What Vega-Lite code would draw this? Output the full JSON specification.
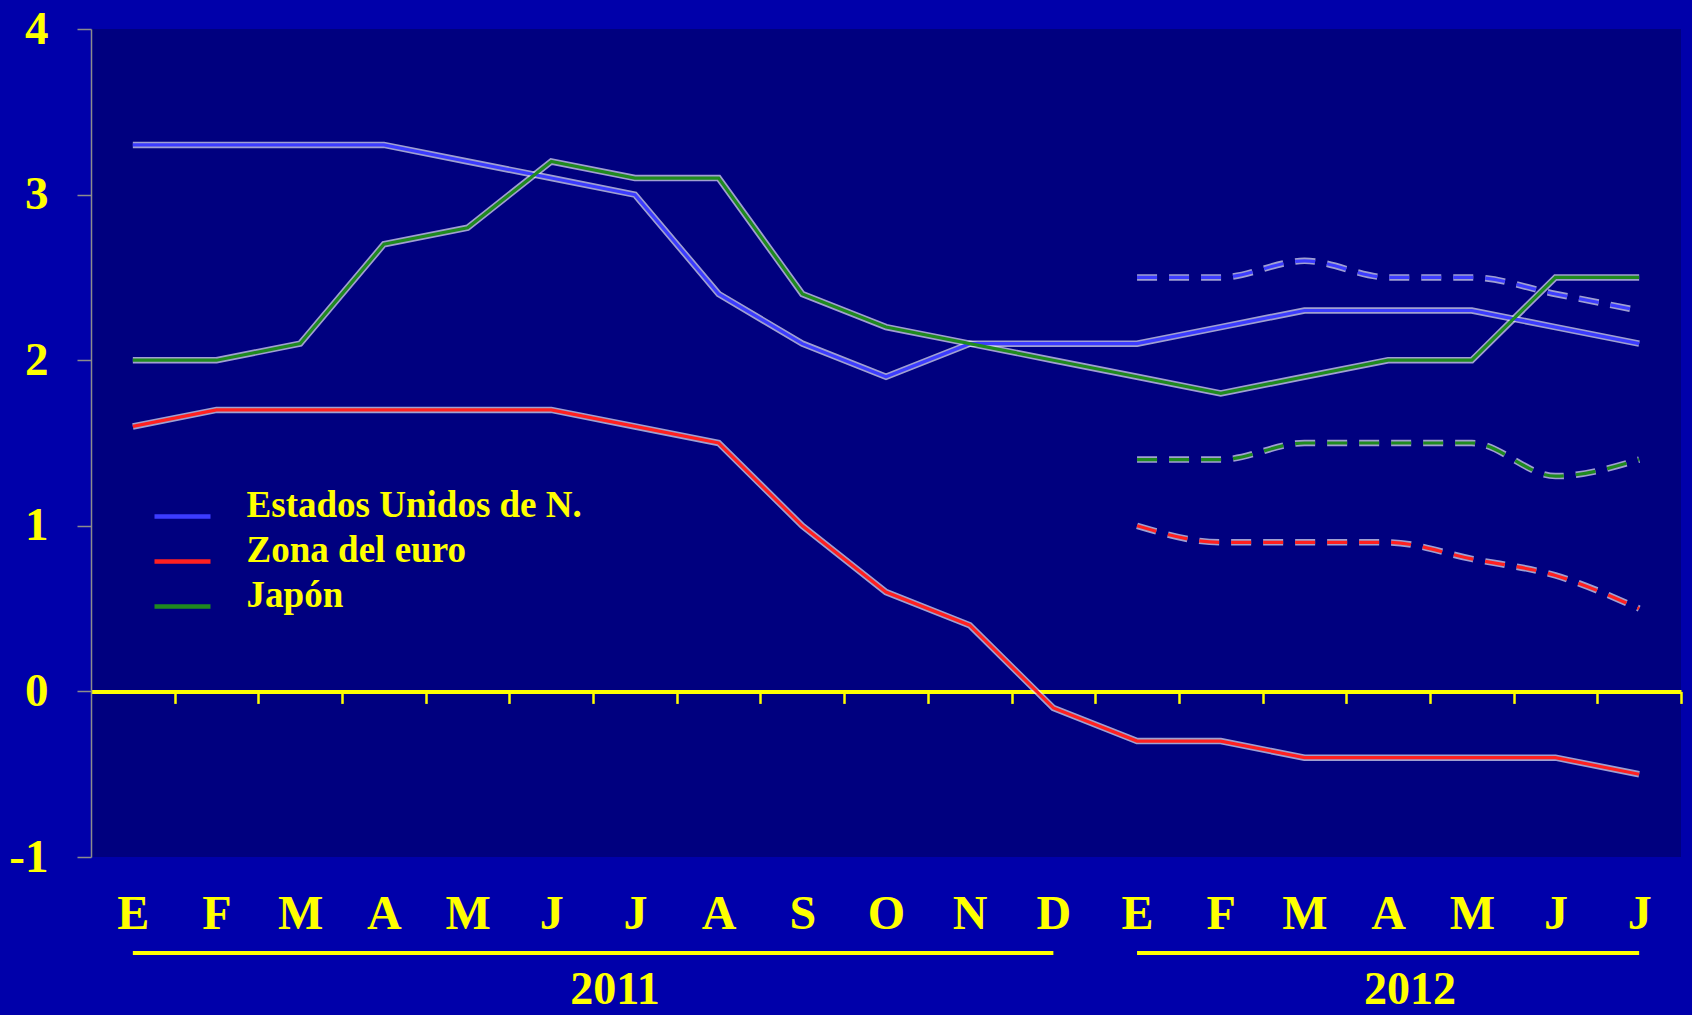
{
  "$schema": "https://vega.github.io/schema/vega-lite/v6.json",
  "width": 1590,
  "height": 828,
  "autosize": "none",
  "padding": {"left": 91, "top": 29, "right": 11, "bottom": 158},
  "background": "#0000aa",
  "config": {
    "view": {"fill": "#00007f", "stroke": null},
    "font": "Liberation Serif"
  },
  "datasets": {
    "tasas": [
      {"serie": "Estados Unidos de N.", "tipo": "observado", "mes": 1, "valor": 3.3},
      {"serie": "Estados Unidos de N.", "tipo": "observado", "mes": 2, "valor": 3.3},
      {"serie": "Estados Unidos de N.", "tipo": "observado", "mes": 3, "valor": 3.3},
      {"serie": "Estados Unidos de N.", "tipo": "observado", "mes": 4, "valor": 3.3},
      {"serie": "Estados Unidos de N.", "tipo": "observado", "mes": 5, "valor": 3.2},
      {"serie": "Estados Unidos de N.", "tipo": "observado", "mes": 6, "valor": 3.1},
      {"serie": "Estados Unidos de N.", "tipo": "observado", "mes": 7, "valor": 3.0},
      {"serie": "Estados Unidos de N.", "tipo": "observado", "mes": 8, "valor": 2.4},
      {"serie": "Estados Unidos de N.", "tipo": "observado", "mes": 9, "valor": 2.1},
      {"serie": "Estados Unidos de N.", "tipo": "observado", "mes": 10, "valor": 1.9},
      {"serie": "Estados Unidos de N.", "tipo": "observado", "mes": 11, "valor": 2.1},
      {"serie": "Estados Unidos de N.", "tipo": "observado", "mes": 12, "valor": 2.1},
      {"serie": "Estados Unidos de N.", "tipo": "observado", "mes": 13, "valor": 2.1},
      {"serie": "Estados Unidos de N.", "tipo": "observado", "mes": 14, "valor": 2.2},
      {"serie": "Estados Unidos de N.", "tipo": "observado", "mes": 15, "valor": 2.3},
      {"serie": "Estados Unidos de N.", "tipo": "observado", "mes": 16, "valor": 2.3},
      {"serie": "Estados Unidos de N.", "tipo": "observado", "mes": 17, "valor": 2.3},
      {"serie": "Estados Unidos de N.", "tipo": "observado", "mes": 18, "valor": 2.2},
      {"serie": "Estados Unidos de N.", "tipo": "observado", "mes": 19, "valor": 2.1},
      {"serie": "Zona del euro", "tipo": "observado", "mes": 1, "valor": 1.6},
      {"serie": "Zona del euro", "tipo": "observado", "mes": 2, "valor": 1.7},
      {"serie": "Zona del euro", "tipo": "observado", "mes": 3, "valor": 1.7},
      {"serie": "Zona del euro", "tipo": "observado", "mes": 4, "valor": 1.7},
      {"serie": "Zona del euro", "tipo": "observado", "mes": 5, "valor": 1.7},
      {"serie": "Zona del euro", "tipo": "observado", "mes": 6, "valor": 1.7},
      {"serie": "Zona del euro", "tipo": "observado", "mes": 7, "valor": 1.6},
      {"serie": "Zona del euro", "tipo": "observado", "mes": 8, "valor": 1.5},
      {"serie": "Zona del euro", "tipo": "observado", "mes": 9, "valor": 1.0},
      {"serie": "Zona del euro", "tipo": "observado", "mes": 10, "valor": 0.6},
      {"serie": "Zona del euro", "tipo": "observado", "mes": 11, "valor": 0.4},
      {"serie": "Zona del euro", "tipo": "observado", "mes": 12, "valor": -0.1},
      {"serie": "Zona del euro", "tipo": "observado", "mes": 13, "valor": -0.3},
      {"serie": "Zona del euro", "tipo": "observado", "mes": 14, "valor": -0.3},
      {"serie": "Zona del euro", "tipo": "observado", "mes": 15, "valor": -0.4},
      {"serie": "Zona del euro", "tipo": "observado", "mes": 16, "valor": -0.4},
      {"serie": "Zona del euro", "tipo": "observado", "mes": 17, "valor": -0.4},
      {"serie": "Zona del euro", "tipo": "observado", "mes": 18, "valor": -0.4},
      {"serie": "Zona del euro", "tipo": "observado", "mes": 19, "valor": -0.5},
      {"serie": "Japón", "tipo": "observado", "mes": 1, "valor": 2.0},
      {"serie": "Japón", "tipo": "observado", "mes": 2, "valor": 2.0},
      {"serie": "Japón", "tipo": "observado", "mes": 3, "valor": 2.1},
      {"serie": "Japón", "tipo": "observado", "mes": 4, "valor": 2.7},
      {"serie": "Japón", "tipo": "observado", "mes": 5, "valor": 2.8},
      {"serie": "Japón", "tipo": "observado", "mes": 6, "valor": 3.2},
      {"serie": "Japón", "tipo": "observado", "mes": 7, "valor": 3.1},
      {"serie": "Japón", "tipo": "observado", "mes": 8, "valor": 3.1},
      {"serie": "Japón", "tipo": "observado", "mes": 9, "valor": 2.4},
      {"serie": "Japón", "tipo": "observado", "mes": 10, "valor": 2.2},
      {"serie": "Japón", "tipo": "observado", "mes": 11, "valor": 2.1},
      {"serie": "Japón", "tipo": "observado", "mes": 12, "valor": 2.0},
      {"serie": "Japón", "tipo": "observado", "mes": 13, "valor": 1.9},
      {"serie": "Japón", "tipo": "observado", "mes": 14, "valor": 1.8},
      {"serie": "Japón", "tipo": "observado", "mes": 15, "valor": 1.9},
      {"serie": "Japón", "tipo": "observado", "mes": 16, "valor": 2.0},
      {"serie": "Japón", "tipo": "observado", "mes": 17, "valor": 2.0},
      {"serie": "Japón", "tipo": "observado", "mes": 18, "valor": 2.5},
      {"serie": "Japón", "tipo": "observado", "mes": 19, "valor": 2.5},
      {"serie": "Estados Unidos de N.", "tipo": "pronóstico", "mes": 13, "valor": 2.5},
      {"serie": "Estados Unidos de N.", "tipo": "pronóstico", "mes": 14, "valor": 2.5},
      {"serie": "Estados Unidos de N.", "tipo": "pronóstico", "mes": 15, "valor": 2.6},
      {"serie": "Estados Unidos de N.", "tipo": "pronóstico", "mes": 16, "valor": 2.5},
      {"serie": "Estados Unidos de N.", "tipo": "pronóstico", "mes": 17, "valor": 2.5},
      {"serie": "Estados Unidos de N.", "tipo": "pronóstico", "mes": 18, "valor": 2.4},
      {"serie": "Estados Unidos de N.", "tipo": "pronóstico", "mes": 19, "valor": 2.3},
      {"serie": "Zona del euro", "tipo": "pronóstico", "mes": 13, "valor": 1.0},
      {"serie": "Zona del euro", "tipo": "pronóstico", "mes": 14, "valor": 0.9},
      {"serie": "Zona del euro", "tipo": "pronóstico", "mes": 15, "valor": 0.9},
      {"serie": "Zona del euro", "tipo": "pronóstico", "mes": 16, "valor": 0.9},
      {"serie": "Zona del euro", "tipo": "pronóstico", "mes": 17, "valor": 0.8},
      {"serie": "Zona del euro", "tipo": "pronóstico", "mes": 18, "valor": 0.7},
      {"serie": "Zona del euro", "tipo": "pronóstico", "mes": 19, "valor": 0.5},
      {"serie": "Japón", "tipo": "pronóstico", "mes": 13, "valor": 1.4},
      {"serie": "Japón", "tipo": "pronóstico", "mes": 14, "valor": 1.4},
      {"serie": "Japón", "tipo": "pronóstico", "mes": 15, "valor": 1.5},
      {"serie": "Japón", "tipo": "pronóstico", "mes": 16, "valor": 1.5},
      {"serie": "Japón", "tipo": "pronóstico", "mes": 17, "valor": 1.5},
      {"serie": "Japón", "tipo": "pronóstico", "mes": 18, "valor": 1.3},
      {"serie": "Japón", "tipo": "pronóstico", "mes": 19, "valor": 1.4}
    ],
    "anios": [
      {"anio": "2011", "inicio": 1, "fin": 12},
      {"anio": "2012", "inicio": 13, "fin": 19}
    ]
  },
  "layer": [
    {
      "data": {"name": "tasas"},
      "transform": [{"filter": "datum.tipo === 'observado'"}],
      "mark": {"type": "line", "stroke": "#e4e4f4", "strokeWidth": 6.5, "opacity": 0.7},
      "encoding": {
        "x": {
          "field": "mes", "type": "quantitative",
          "scale": {"domain": [0.5, 19.5], "nice": false, "zero": false},
          "axis": {
            "orient": "bottom", "offset": -165.6, "title": null, "grid": false,
            "values": [1, 2, 3, 4, 5, 6, 7, 8, 9, 10, 11, 12, 13, 14, 15, 16, 17, 18, 19],
            "domainColor": "#ffff00", "domainWidth": 4,
            "tickColor": "#ffff00", "tickWidth": 2.5, "tickSize": 12,
            "tickOffset": 41.84, "labelOffset": -41.84,
            "labelPadding": 224.6, "labelBaseline": "alphabetic",
            "labelFont": "Liberation Serif", "labelFontWeight": "bold", "labelFontSize": 48,
            "labelColor": "#ffff00", "labelFlush": false, "labelOverlap": false, "labelBound": false,
            "labelExpr": "['E','F','M','A','M','J','J','A','S','O','N','D'][(datum.value - 1) % 12]"
          }
        },
        "y": {
          "field": "valor", "type": "quantitative",
          "scale": {"domain": [-1, 4], "nice": false, "zero": false},
          "axis": {
            "title": null, "grid": false,
            "values": [-1, 0, 1, 2, 3, 4],
            "domainColor": "#8c8c8c", "domainWidth": 1.5,
            "tickColor": "#8c8c8c", "tickWidth": 1.5, "tickSize": 14,
            "labelPadding": 29,
            "labelFont": "Liberation Serif", "labelFontWeight": "bold", "labelFontSize": 47,
            "labelColor": "#ffff00", "labelFlush": false, "labelOverlap": false, "labelBound": false,
            "labelExpr": "'' + datum.value"
          }
        },
        "detail": {"field": "serie"}
      }
    },
    {
      "data": {"name": "tasas"},
      "transform": [{"filter": "datum.tipo === 'pronóstico'"}],
      "mark": {"type": "line", "stroke": "#e4e4f4", "strokeWidth": 6.5, "opacity": 0.7, "strokeDash": [20, 12], "interpolate": "monotone"},
      "encoding": {
        "x": {"field": "mes", "type": "quantitative", "axis": {"title": null}},
        "y": {"field": "valor", "type": "quantitative", "axis": {"title": null}},
        "detail": {"field": "serie"}
      }
    },
    {
      "data": {"name": "tasas"},
      "transform": [{"filter": "datum.tipo === 'observado'"}],
      "mark": {"type": "line", "strokeWidth": 3.2},
      "encoding": {
        "x": {"field": "mes", "type": "quantitative", "axis": {"title": null}},
        "y": {"field": "valor", "type": "quantitative", "axis": {"title": null}},
        "color": {
          "field": "serie", "type": "nominal",
          "scale": {
            "domain": ["Estados Unidos de N.", "Zona del euro", "Japón"],
            "range": ["#3c3cff", "#ff2020", "#1f8a1f"]
          },
          "legend": {
            "orient": "none", "legendX": 61, "legendY": 457, "title": null,
            "symbolType": "stroke", "symbolSize": 3136, "symbolStrokeWidth": 4.5,
            "labelFont": "Liberation Serif", "labelFontWeight": "bold", "labelFontSize": 37,
            "labelColor": "#ffff00", "labelOffset": 33.6, "labelBaseline": "alphabetic",
            "rowPadding": 5, "labelLimit": 0
          }
        }
      }
    },
    {
      "data": {"name": "tasas"},
      "transform": [{"filter": "datum.tipo === 'pronóstico'"}],
      "mark": {"type": "line", "strokeWidth": 3.2, "strokeDash": [20, 12], "interpolate": "monotone"},
      "encoding": {
        "x": {"field": "mes", "type": "quantitative", "axis": {"title": null}},
        "y": {"field": "valor", "type": "quantitative", "axis": {"title": null}},
        "color": {"field": "serie", "type": "nominal"}
      }
    },
    {
      "data": {"name": "anios"},
      "mark": {"type": "rule", "color": "#ffff00", "strokeWidth": 4, "clip": false},
      "encoding": {
        "x": {"field": "inicio", "type": "quantitative", "axis": {"title": null}},
        "x2": {"field": "fin"},
        "y": {"datum": -1.58, "type": "quantitative", "axis": {"title": null}}
      }
    },
    {
      "data": {"name": "anios"},
      "transform": [{"calculate": "(datum.inicio + datum.fin) / 2", "as": "centro"}],
      "mark": {
        "type": "text", "color": "#ffff00", "font": "Liberation Serif", "fontWeight": "bold",
        "fontSize": 46, "baseline": "middle", "align": "center", "dx": 22, "clip": false
      },
      "encoding": {
        "x": {"field": "centro", "type": "quantitative", "axis": {"title": null}},
        "y": {"datum": -1.803, "type": "quantitative", "axis": {"title": null}},
        "text": {"field": "anio"}
      }
    }
  ]
}
